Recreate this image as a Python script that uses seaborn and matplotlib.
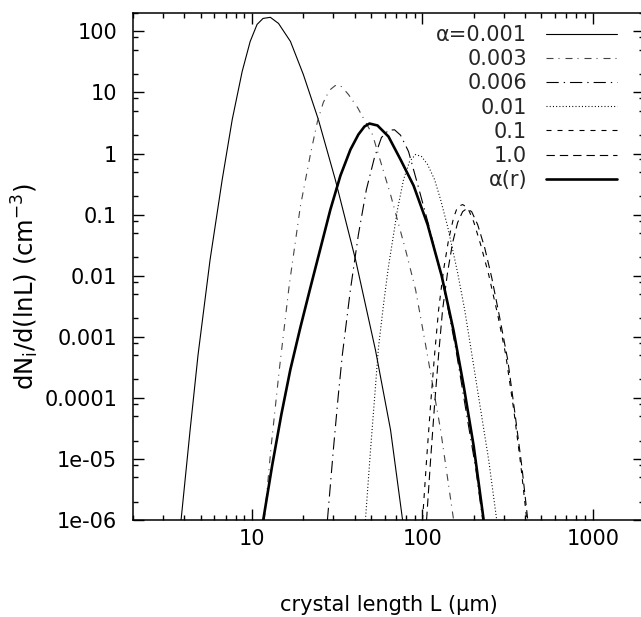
import matplotlib
matplotlib.use("Agg")
import matplotlib.pyplot as plt
from matplotlib.ticker import FixedLocator, FixedFormatter, LogLocator, NullFormatter
import seaborn as sns

sns.set_style("ticks")
plt.rcParams['font.family'] = ['DejaVu Sans']
plt.rcParams['mathtext.default'] = 'regular'

# values: crystal length L (um), dN/d(lnL) (cm^-3)
L_001 = [3.83, 4.33, 4.82, 5.67, 6.68, 7.65, 8.75, 9.75, 10.7, 11.6, 12.8, 14.3,
         16.8, 20.0, 24.5, 30.8, 40.5, 53.0, 65.0, 76.5]
N_001 = [1e-6, 3.0e-5, 5.1e-4, 0.0183, 0.375, 3.61, 22.1, 68.5, 130, 163, 170, 135,
         68.5, 19.7, 3.61, 0.375, 0.0183, 6.1e-4, 3.0e-5, 1e-6]

L_003 = [11.8, 12.97, 14.45, 16.54, 19.2, 22.0, 24.2, 26.2, 28.4, 30.8, 33.5, 36.8,
         41.6, 50.9, 65.0, 79.6, 91.2, 104.4, 127.9, 152.5]
N_003 = [1e-6, 1.7e-5, 2.88e-4, 7.1e-3, 0.135, 0.964, 3.35, 6.86, 10.8, 13.0, 12.5, 9.27,
         5.68, 2.05, 0.213, 0.0267, 5.9e-3, 7.4e-4, 3.0e-5, 1e-6]

L_006 = [27.7, 30.0, 32.1, 33.9, 37.8, 42.1, 46.9, 52.3, 57.5, 63.2, 68.6, 74.4,
         82.9, 94.9, 108.7, 133.2, 156.7, 181.9, 205.5, 225.9]
N_006 = [1e-6, 1.4e-5, 1.12e-4, 5.1e-4, 5.9e-3, 0.047, 0.257, 0.859, 1.83, 2.4, 2.45, 2.0,
         1.08, 0.277, 0.0686, 6.86e-3, 6.6e-4, 5.3e-5, 7.1e-6, 1e-6]

L_01 = [46.3, 49.6, 52.3, 55.2, 59.1, 63.2, 67.7, 71.4, 77.5, 84.1, 91.2, 98.9,
        107.3, 117.9, 127.9, 140.7, 161.0, 177.1, 192.0, 219.9, 245.0, 273.1]
N_01 = [1e-6, 1.4e-5, 9.3e-5, 6.6e-4, 3.35e-3, 0.0141, 0.047, 0.121, 0.375, 0.740, 0.964, 0.893,
        0.661, 0.375, 0.176, 0.0635, 0.0112, 2.77e-3, 6.85e-4, 6.35e-5, 9.6e-6, 1e-6]

L_1 = [100.2, 105.8, 111.7, 117.9, 124.5, 133.2, 142.5, 152.5, 161.0, 172.3, 184.4, 200.0,
       219.9, 245.0, 276.8, 308.4, 343.9, 378.1, 410.1]
N_1 = [1e-6, 9.6e-6, 7.7e-5, 5.1e-4, 2.77e-3, 0.0125, 0.0389, 0.0893, 0.135, 0.146, 0.130, 0.0767,
       0.0322, 0.0104, 2.30e-3, 5.1e-4, 6.35e-5, 7.97e-6, 1e-6]

L_10 = [105.8, 111.7, 117.9, 124.5, 131.4, 140.7, 150.5, 161.0, 172.3, 181.9, 194.6, 211.1,
        232.1, 255.3, 284.4, 316.9, 348.5, 383.2, 415.6]
N_10 = [1e-6, 9.6e-6, 7.7e-5, 5.1e-4, 2.77e-3, 0.0116, 0.0348, 0.0740, 0.112, 0.125, 0.112, 0.0686,
        0.0288, 9.3e-3, 2.05e-3, 4.2e-4, 5.9e-5, 7.7e-6, 1e-6]

L_r = [11.63, 13.14, 14.85, 16.77, 19.2, 21.99, 25.18, 28.83, 33.02, 37.8, 42.1, 45.7,
       48.9, 54.5, 63.2, 74.4, 88.8, 107.3, 129.7, 152.5, 174.7, 200.0, 228.9]
N_r = [1e-6, 7.97e-6, 5.3e-5, 2.88e-4, 1.41e-3, 6.35e-3, 0.0277, 0.121, 0.435, 1.16, 2.05, 2.77,
       3.10, 2.88, 1.90, 0.798, 0.298, 0.0686, 0.01, 1.25e-3, 1.57e-4, 1.63e-5, 1e-6]

labels = ["α=0.001", "0.003", "0.006", "0.01", "0.1", "1.0", "α(r)"]

xtick_vals = [10, 100, 1000]
xtick_labels = ["10", "100", "1000"]
ytick_vals = [1e2, 1e1, 1, 1e-1, 1e-2, 1e-3, 1e-4, 1e-5, 1e-6]
ytick_labels = ["100", "10", "1", "0.1", "0.01", "0.001", "0.0001", "1e-05", "1e-06"]

curves = [
    (L_001, N_001, "-", 0.8, "black"),
    (L_003, N_003, (0, (6.3, 4.5, 0.9, 5.4)), 0.8, "#444444"),
    (L_006, N_006, (0, (11, 4.5, 1.2, 4.5)), 0.8, "black"),
    (L_01, N_01, (0, (0.9, 2.0)), 0.8, "black"),
    (L_1, N_1, (0, (4.5, 5.4)), 0.8, "black"),
    (L_10, N_10, (0, (7.5, 4.5)), 0.8, "black"),
    (L_r, N_r, "-", 1.9, "black"),
]

fig = plt.figure(figsize=(6.41, 6.17), dpi=100)
ax = fig.add_axes([133 / 641, 97 / 617, 511 / 641, 507 / 617])

for (L, N, ls, lw, col), lab in zip(curves, labels):
    sns.lineplot(x=L, y=N, ax=ax, color=col, lw=lw, linestyle=ls,
                 label=lab, estimator=None, sort=False)

ax.set_xscale("log")
ax.set_yscale("log")
ax.set_xlim(2, 2000)
ax.set_ylim(1e-6, 200)

ax.xaxis.set_major_locator(FixedLocator(xtick_vals))
ax.xaxis.set_major_formatter(FixedFormatter(xtick_labels))
ax.xaxis.set_minor_locator(LogLocator(base=10, subs=range(2, 10)))
ax.xaxis.set_minor_formatter(NullFormatter())
ax.yaxis.set_major_locator(FixedLocator(ytick_vals))
ax.yaxis.set_major_formatter(FixedFormatter(ytick_labels))
ax.yaxis.set_minor_locator(LogLocator(base=10, subs=[2, 5, 8]))
ax.yaxis.set_minor_formatter(NullFormatter())

ax.tick_params(which="both", direction="in", top=True, right=True,
               width=1.0, color="black", labelsize=15, labelcolor="black")
ax.tick_params(which="major", length=7.9)
ax.tick_params(which="minor", length=3.6)
ax.tick_params(axis="x", pad=6.8)
ax.tick_params(axis="y", pad=11.5)
for sp in ax.spines.values():
    sp.set_linewidth(1.1)
    sp.set_color("black")

ax.set_xlabel("crystal length L (μm)", fontsize=15, color="black")
ax.set_ylabel("dN$_i$/d(lnL) (cm$^{-3}$)", fontsize=17.5, color="black")
ax.xaxis.set_label_coords(0.5, -0.148)
ax.yaxis.set_label_coords(-0.18, 0.46)

ax.legend(loc="upper right", bbox_to_anchor=(617 / 641, 1 - 25 / 617),
          bbox_transform=fig.transFigure, frameon=False, markerfirst=False,
          fontsize=15, handlelength=3.41, handletextpad=0.91, labelspacing=0.2,
          borderpad=0, borderaxespad=0)

fig.savefig("out.png", dpi=100)
